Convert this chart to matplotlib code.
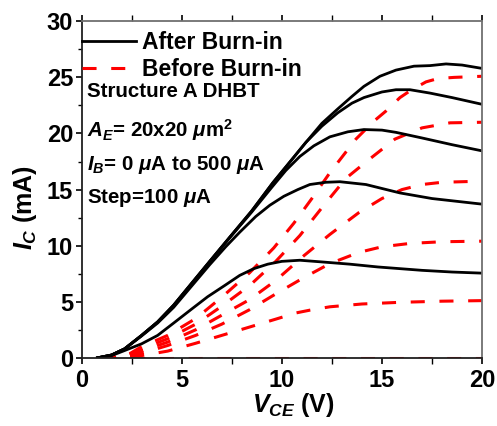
import matplotlib
matplotlib.use('Agg')
import matplotlib.pyplot as plt
from matplotlib.ticker import MultipleLocator

plt.rcParams['font.family'] = 'Liberation Sans'
plt.rcParams['font.weight'] = 'bold'
plt.rcParams['axes.labelweight'] = 'bold'
plt.rcParams['mathtext.fontset'] = 'custom'
plt.rcParams['mathtext.rm'] = 'Liberation Sans:bold'
plt.rcParams['mathtext.it'] = 'Liberation Sans:italic:bold'
plt.rcParams['mathtext.bf'] = 'Liberation Sans:bold'

# After burn-in, IB = 100..500 uA
vce_a100 = [0.8, 1.5, 2.15, 3.0, 3.8, 4.6, 5.5, 6.3, 7.15, 7.9, 8.6, 9.3, 10.0, 10.9, 12.0, 13.4, 14.8, 15.9, 17.0, 18.5, 20.0]
ic_a100 = [0.0, 0.2, 0.65, 1.25, 2.0, 3.1, 4.35, 5.45, 6.45, 7.35, 7.95, 8.35, 8.6, 8.7, 8.55, 8.35, 8.1, 7.95, 7.8, 7.65, 7.55]

vce_a200 = [0.8, 1.5, 2.15, 3.0, 3.8, 4.6, 5.5, 6.4, 7.2, 7.9, 8.7, 9.4, 10.1, 10.8, 11.4, 12.2, 12.9, 14.2, 15.9, 17.5, 20.0]
ic_a200 = [0.0, 0.25, 0.8, 1.95, 3.1, 4.5, 6.4, 8.3, 9.9, 11.2, 12.6, 13.6, 14.4, 15.0, 15.45, 15.65, 15.7, 15.45, 14.7, 14.2, 13.7]

vce_a300 = [0.8, 1.5, 2.15, 3.0, 3.8, 4.6, 5.5, 6.4, 7.4, 8.5, 9.5, 10.2, 10.9, 11.6, 12.4, 13.3, 14.1, 15.0, 15.7, 17.0, 18.5, 20.0]
ic_a300 = [0.0, 0.25, 0.8, 2.0, 3.2, 4.65, 6.6, 8.55, 10.7, 13.0, 15.2, 16.7, 17.95, 18.9, 19.7, 20.15, 20.35, 20.3, 20.1, 19.6, 19.0, 18.45]

vce_a400 = [0.8, 1.5, 2.15, 3.0, 3.8, 4.6, 5.5, 6.4, 7.4, 8.5, 9.55, 10.4, 11.2, 12.0, 12.8, 13.5, 14.1, 15.0, 15.7, 16.4, 17.4, 18.5, 20.0]
ic_a400 = [0.0, 0.25, 0.8, 2.0, 3.2, 4.7, 6.65, 8.6, 10.75, 13.1, 15.6, 17.45, 19.2, 20.65, 21.85, 22.7, 23.2, 23.7, 23.9, 23.9, 23.6, 23.2, 22.6]

vce_a500 = [0.8, 1.5, 2.15, 3.0, 3.8, 4.6, 5.5, 6.4, 7.4, 8.5, 9.55, 10.4, 11.2, 12.0, 12.8, 13.5, 14.1, 14.9, 15.7, 16.6, 17.4, 18.2, 19.0, 20.0]
ic_a500 = [0.0, 0.25, 0.8, 2.0, 3.2, 4.7, 6.65, 8.6, 10.75, 13.1, 15.6, 17.45, 19.2, 20.9, 22.2, 23.3, 24.2, 25.1, 25.65, 26.0, 26.05, 26.2, 26.1, 25.8]

# Before burn-in, IB = 0..500 uA
vce_b0 = [1.0, 20.0]
ic_b0 = [0.0, 0.0]

vce_b100 = [1.0, 2.2, 3.0, 4.3, 5.7, 7.0, 8.4, 9.7, 10.7, 11.4, 12.4, 14.0, 15.9, 18.0, 20.0]
ic_b100 = [0.0, 0.05, 0.2, 0.6, 1.3, 2.0, 2.75, 3.45, 4.0, 4.25, 4.55, 4.8, 4.95, 5.05, 5.1]

vce_b200 = [1.0, 2.2, 3.0, 4.3, 5.7, 7.0, 8.4, 9.7, 11.05, 12.4, 13.85, 15.0, 16.4, 18.0, 20.0]
ic_b200 = [0.0, 0.08, 0.4, 1.1, 2.0, 3.0, 4.3, 5.7, 7.1, 8.4, 9.4, 9.9, 10.2, 10.35, 10.4]

vce_b300 = [1.0, 2.2, 3.0, 4.3, 5.7, 7.0, 8.4, 9.7, 11.1, 12.4, 13.85, 15.0, 16.0, 17.0, 18.0, 20.0]
ic_b300 = [0.0, 0.1, 0.6, 1.4, 2.5, 3.8, 5.2, 6.9, 9.1, 11.0, 12.95, 14.2, 15.0, 15.45, 15.65, 15.75]

vce_b400 = [1.0, 2.2, 3.0, 4.3, 5.7, 7.0, 8.4, 9.7, 10.9, 12.1, 13.2, 14.3, 15.65, 17.0, 18.4, 20.0]
ic_b400 = [0.0, 0.12, 0.8, 1.7, 3.0, 4.6, 6.45, 8.6, 10.9, 13.6, 16.0, 17.6, 19.5, 20.5, 20.95, 21.0]

vce_b500 = [1.0, 2.2, 3.0, 4.3, 5.7, 7.0, 8.4, 9.6, 10.6, 11.5, 12.4, 13.7, 14.6, 15.2, 15.9, 16.4, 17.2, 17.8, 18.6, 20.0]
ic_b500 = [0.0, 0.15, 1.0, 2.0, 3.5, 5.4, 7.6, 9.8, 12.0, 14.2, 16.5, 19.5, 21.1, 22.0, 23.2, 23.8, 24.6, 24.9, 25.0, 25.1]

after = [(vce_a100, ic_a100), (vce_a200, ic_a200), (vce_a300, ic_a300),
         (vce_a400, ic_a400), (vce_a500, ic_a500)]
before = [(vce_b0, ic_b0), (vce_b100, ic_b100), (vce_b200, ic_b200),
          (vce_b300, ic_b300), (vce_b400, ic_b400), (vce_b500, ic_b500)]

notes = ['Structure A DHBT',
         r'$A_E$= 20x20 $\mu$m$^2$',
         r'$I_B$= 0 $\mu$A to 500 $\mu$A',
         r'Step=100 $\mu$A']
note_y = [0.776, 0.657, 0.559, 0.461]

fig = plt.figure(figsize=(4.97, 4.26), dpi=100)
ax = fig.add_axes([0.164, 0.160, 0.806, 0.790])

dash = (0, (4.6, 4.8))
for i, (v, c) in enumerate(before):
    ax.plot(v, c, color='red', lw=2.2, linestyle=dash,
            label='Before Burn-in' if i == 0 else None)
for i, (v, c) in enumerate(after):
    ax.plot(v, c, color='black', lw=2.0,
            label='After Burn-in' if i == 0 else None)

ax.set_xlim(0, 20)
ax.set_ylim(0, 30)
ax.xaxis.set_major_locator(MultipleLocator(5))
ax.xaxis.set_minor_locator(MultipleLocator(2.5))
ax.yaxis.set_major_locator(MultipleLocator(5))
ax.yaxis.set_minor_locator(MultipleLocator(2.5))
ax.tick_params(axis='both', which='both', direction='out', labelsize=17)
ax.tick_params(axis='x', which='both', top=True, pad=4)
ax.tick_params(axis='x', which='major', length=4, width=1.2)
ax.tick_params(axis='x', which='minor', length=4, width=1.0)
ax.tick_params(axis='y', which='major', length=4, width=1.2, pad=2)
ax.tick_params(axis='y', which='minor', length=3, width=1.0)
for s in ['left', 'bottom']:
    ax.spines[s].set_linewidth(1.3)
    ax.spines[s].set_color('#202020')
for s in ['top', 'right']:
    ax.spines[s].set_linewidth(1.3)
    ax.spines[s].set_color('#707070')

ax.set_xlabel(r'$V_{CE}$ (V)', fontsize=18, fontweight='bold')
ax.set_ylabel(r'$I_C$ (mA)', fontsize=18, fontweight='bold')
ax.xaxis.set_label_coords(0.528, -0.1)
ax.yaxis.set_label_coords(-0.106, 0.446)

handles, labels = ax.get_legend_handles_labels()
ax.legend(handles[::-1], labels[::-1], loc='upper left', frameon=False,
          prop={'size': 16.5, 'weight': 'bold'}, handlelength=2.36,
          handletextpad=0.26, labelspacing=0.2, borderpad=0,
          borderaxespad=0, bbox_to_anchor=(0.0, 0.972))

for t, y in zip(notes, note_y):
    ax.text(0.013, y, t, transform=ax.transAxes,
            fontsize=14.8, fontweight='bold', va='baseline', ha='left')

fig.savefig('out.png', dpi=100)
